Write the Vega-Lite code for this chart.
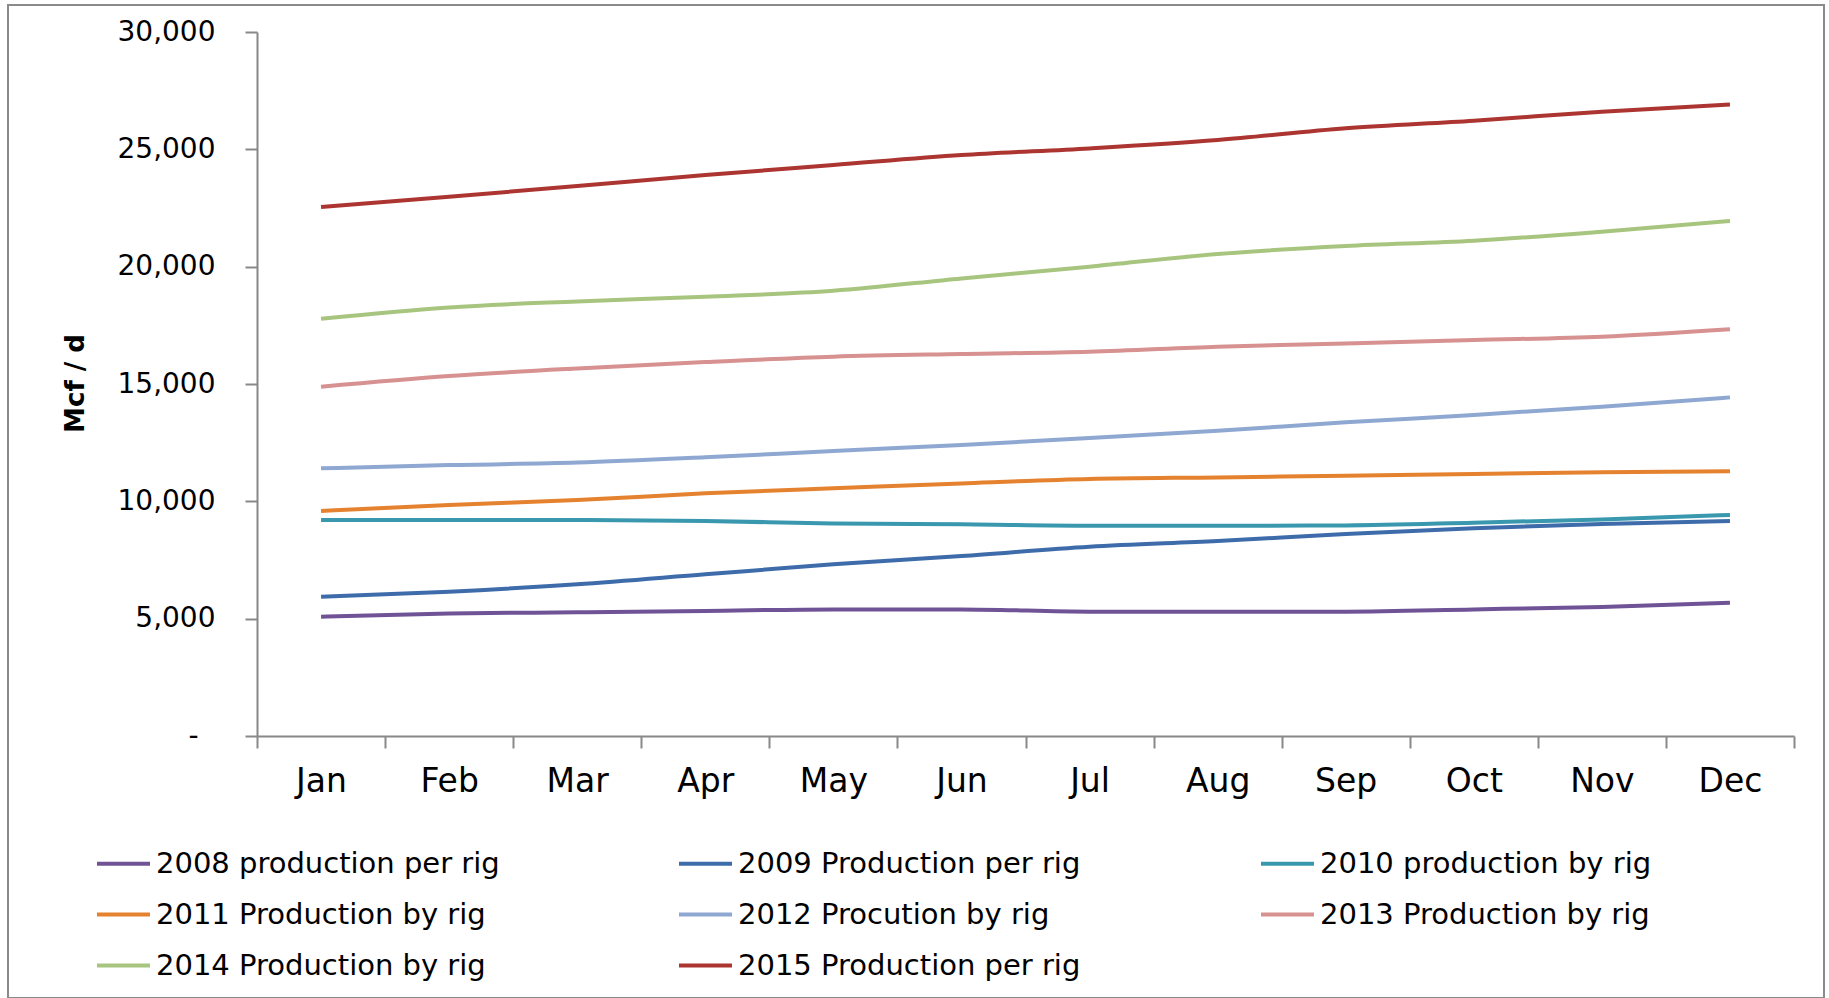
{
  "$schema": "https://vega.github.io/schema/vega-lite/v6.json",
  "width": 1816,
  "height": 993,
  "autosize": {"type": "none"},
  "padding": {"left": 8, "top": 5, "right": 5, "bottom": 0},
  "background": "white",
  "config": {"view": {"stroke": "#8a8a8a", "strokeWidth": 2}, "font": "DejaVu Sans"},
  "data": {"values": [
    {"month": "Jan", "series": "2008 production per rig", "value": 5085},
    {"month": "Feb", "series": "2008 production per rig", "value": 5225},
    {"month": "Mar", "series": "2008 production per rig", "value": 5270},
    {"month": "Apr", "series": "2008 production per rig", "value": 5330},
    {"month": "May", "series": "2008 production per rig", "value": 5395},
    {"month": "Jun", "series": "2008 production per rig", "value": 5395},
    {"month": "Jul", "series": "2008 production per rig", "value": 5300},
    {"month": "Aug", "series": "2008 production per rig", "value": 5295},
    {"month": "Sep", "series": "2008 production per rig", "value": 5300},
    {"month": "Oct", "series": "2008 production per rig", "value": 5395},
    {"month": "Nov", "series": "2008 production per rig", "value": 5500},
    {"month": "Dec", "series": "2008 production per rig", "value": 5680},
    {"month": "Jan", "series": "2009 Production per rig", "value": 5935},
    {"month": "Feb", "series": "2009 Production per rig", "value": 6150},
    {"month": "Mar", "series": "2009 Production per rig", "value": 6465},
    {"month": "Apr", "series": "2009 Production per rig", "value": 6890},
    {"month": "May", "series": "2009 Production per rig", "value": 7315},
    {"month": "Jun", "series": "2009 Production per rig", "value": 7670},
    {"month": "Jul", "series": "2009 Production per rig", "value": 8065},
    {"month": "Aug", "series": "2009 Production per rig", "value": 8310},
    {"month": "Sep", "series": "2009 Production per rig", "value": 8605},
    {"month": "Oct", "series": "2009 Production per rig", "value": 8850},
    {"month": "Nov", "series": "2009 Production per rig", "value": 9035},
    {"month": "Dec", "series": "2009 Production per rig", "value": 9160},
    {"month": "Jan", "series": "2010 production by rig", "value": 9205},
    {"month": "Feb", "series": "2010 production by rig", "value": 9205},
    {"month": "Mar", "series": "2010 production by rig", "value": 9205},
    {"month": "Apr", "series": "2010 production by rig", "value": 9160},
    {"month": "May", "series": "2010 production by rig", "value": 9060},
    {"month": "Jun", "series": "2010 production by rig", "value": 9020},
    {"month": "Jul", "series": "2010 production by rig", "value": 8960},
    {"month": "Aug", "series": "2010 production by rig", "value": 8960},
    {"month": "Sep", "series": "2010 production by rig", "value": 8975},
    {"month": "Oct", "series": "2010 production by rig", "value": 9090},
    {"month": "Nov", "series": "2010 production by rig", "value": 9230},
    {"month": "Dec", "series": "2010 production by rig", "value": 9420},
    {"month": "Jan", "series": "2011 Production by rig", "value": 9590},
    {"month": "Feb", "series": "2011 Production by rig", "value": 9845},
    {"month": "Mar", "series": "2011 Production by rig", "value": 10055},
    {"month": "Apr", "series": "2011 Production by rig", "value": 10340},
    {"month": "May", "series": "2011 Production by rig", "value": 10555},
    {"month": "Jun", "series": "2011 Production by rig", "value": 10765},
    {"month": "Jul", "series": "2011 Production by rig", "value": 10950},
    {"month": "Aug", "series": "2011 Production by rig", "value": 11020},
    {"month": "Sep", "series": "2011 Production by rig", "value": 11095},
    {"month": "Oct", "series": "2011 Production by rig", "value": 11165},
    {"month": "Nov", "series": "2011 Production by rig", "value": 11235},
    {"month": "Dec", "series": "2011 Production by rig", "value": 11280},
    {"month": "Jan", "series": "2012 Procution by rig", "value": 11405},
    {"month": "Feb", "series": "2012 Procution by rig", "value": 11545},
    {"month": "Mar", "series": "2012 Procution by rig", "value": 11650},
    {"month": "Apr", "series": "2012 Procution by rig", "value": 11875},
    {"month": "May", "series": "2012 Procution by rig", "value": 12145},
    {"month": "Jun", "series": "2012 Procution by rig", "value": 12400},
    {"month": "Jul", "series": "2012 Procution by rig", "value": 12700},
    {"month": "Aug", "series": "2012 Procution by rig", "value": 13010},
    {"month": "Sep", "series": "2012 Procution by rig", "value": 13365},
    {"month": "Oct", "series": "2012 Procution by rig", "value": 13680},
    {"month": "Nov", "series": "2012 Procution by rig", "value": 14035},
    {"month": "Dec", "series": "2012 Procution by rig", "value": 14430},
    {"month": "Jan", "series": "2013 Production by rig", "value": 14885},
    {"month": "Feb", "series": "2013 Production by rig", "value": 15340},
    {"month": "Mar", "series": "2013 Production by rig", "value": 15665},
    {"month": "Apr", "series": "2013 Production by rig", "value": 15935},
    {"month": "May", "series": "2013 Production by rig", "value": 16165},
    {"month": "Jun", "series": "2013 Production by rig", "value": 16280},
    {"month": "Jul", "series": "2013 Production by rig", "value": 16375},
    {"month": "Aug", "series": "2013 Production by rig", "value": 16590},
    {"month": "Sep", "series": "2013 Production by rig", "value": 16730},
    {"month": "Oct", "series": "2013 Production by rig", "value": 16875},
    {"month": "Nov", "series": "2013 Production by rig", "value": 17015},
    {"month": "Dec", "series": "2013 Production by rig", "value": 17330},
    {"month": "Jan", "series": "2014 Production by rig", "value": 17780},
    {"month": "Feb", "series": "2014 Production by rig", "value": 18265},
    {"month": "Mar", "series": "2014 Production by rig", "value": 18520},
    {"month": "Apr", "series": "2014 Production by rig", "value": 18720},
    {"month": "May", "series": "2014 Production by rig", "value": 18975},
    {"month": "Jun", "series": "2014 Production by rig", "value": 19500},
    {"month": "Jul", "series": "2014 Production by rig", "value": 20000},
    {"month": "Aug", "series": "2014 Production by rig", "value": 20540},
    {"month": "Sep", "series": "2014 Production by rig", "value": 20880},
    {"month": "Oct", "series": "2014 Production by rig", "value": 21105},
    {"month": "Nov", "series": "2014 Production by rig", "value": 21490},
    {"month": "Dec", "series": "2014 Production by rig", "value": 21945},
    {"month": "Jan", "series": "2015 Production per rig", "value": 22540},
    {"month": "Feb", "series": "2015 Production per rig", "value": 22980},
    {"month": "Mar", "series": "2015 Production per rig", "value": 23435},
    {"month": "Apr", "series": "2015 Production per rig", "value": 23905},
    {"month": "May", "series": "2015 Production per rig", "value": 24330},
    {"month": "Jun", "series": "2015 Production per rig", "value": 24755},
    {"month": "Jul", "series": "2015 Production per rig", "value": 25040},
    {"month": "Aug", "series": "2015 Production per rig", "value": 25395},
    {"month": "Sep", "series": "2015 Production per rig", "value": 25895},
    {"month": "Oct", "series": "2015 Production per rig", "value": 26220},
    {"month": "Nov", "series": "2015 Production per rig", "value": 26605},
    {"month": "Dec", "series": "2015 Production per rig", "value": 26915}
  ]},
  "mark": {"type": "line", "strokeWidth": 4, "interpolate": "monotone"},
  "encoding": {
    "x": {
      "field": "month",
      "type": "ordinal",
      "sort": ["Jan", "Feb", "Mar", "Apr", "May", "Jun", "Jul", "Aug", "Sep", "Oct", "Nov", "Dec"],
      "scale": {"type": "band", "range": [249, 1786], "paddingInner": 0, "paddingOuter": 0},
      "axis": {
        "orient": "bottom",
        "offset": -262,
        "title": null,
        "labelAngle": 0,
        "tickBand": "extent",
        "tickSize": 12,
        "tickWidth": 2,
        "tickColor": "#888888",
        "domainColor": "#888888",
        "domainWidth": 2,
        "labelFontSize": 33,
        "labelColor": "#000000",
        "labelPadding": 17,
        "grid": false
      }
    },
    "y": {
      "field": "value",
      "type": "quantitative",
      "scale": {"domain": [0, 30000], "range": [731, 27], "nice": false, "zero": true},
      "axis": {
        "orient": "left",
        "offset": -249,
        "values": [0, 5000, 10000, 15000, 20000, 25000, 30000],
        "labelExpr": "datum.value == 0 ? '-' : format(datum.value, ',')",
        "title": "Mcf / d",
        "titleFontSize": 26,
        "titleFontWeight": "bold",
        "titleColor": "#000000",
        "titleX": -169,
        "titleY": 378,
        "titleAngle": 270,
        "titleBaseline": "bottom",
        "titleAlign": "center",
        "tickSize": 12,
        "tickWidth": 2,
        "tickColor": "#888888",
        "domainColor": "#888888",
        "domainWidth": 2,
        "labelFontSize": 28,
        "labelColor": "#000000",
        "labelPadding": {"condition": {"test": "datum.value == 0", "value": 47}, "value": 30},
        "grid": false
      }
    },
    "color": {
      "field": "series",
      "type": "nominal",
      "scale": {
        "domain": ["2008 production per rig", "2009 Production per rig", "2010 production by rig", "2011 Production by rig", "2012 Procution by rig", "2013 Production by rig", "2014 Production by rig", "2015 Production per rig"],
        "range": ["#6F5396", "#3E6CAA", "#3A98AE", "#E5822F", "#8EA8D2", "#D69190", "#A8C57F", "#AC3532"]
      },
      "legend": {
        "title": null,
        "orient": "none",
        "direction": "horizontal",
        "legendX": 87,
        "legendY": 830,
        "columns": 3,
        "gridAlign": "all",
        "symbolType": "stroke",
        "symbolSize": 2809,
        "symbolStrokeWidth": 4,
        "labelFontSize": 29,
        "labelColor": "#000000",
        "labelOffset": 4,
        "labelLimit": 0,
        "columnPadding": 171,
        "rowPadding": 7
      }
    }
  }
}
